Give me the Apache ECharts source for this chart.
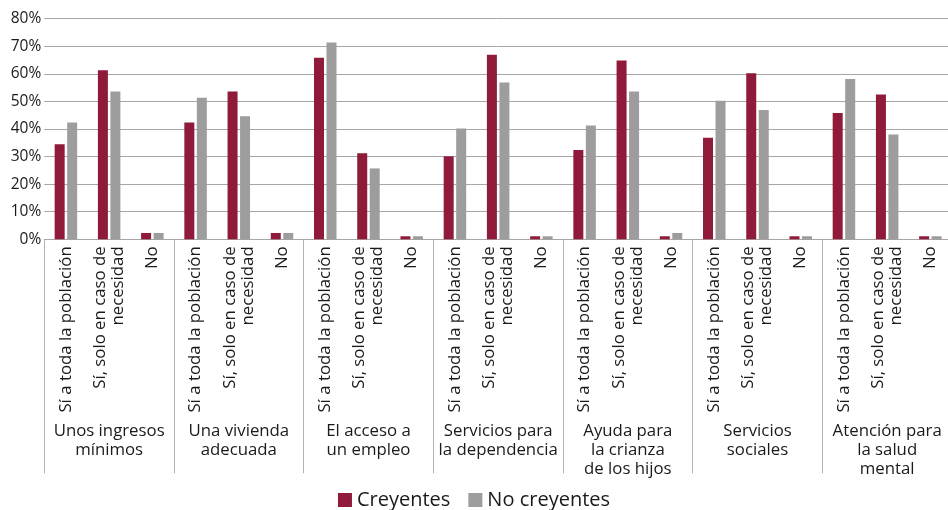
<!DOCTYPE html>
<html><head><meta charset="utf-8">
<script src="https://cdn.jsdelivr.net/npm/echarts@6/dist/echarts.min.js"></script>
<style>html,body{margin:0;padding:0;background:#fff}#c{width:948px;height:510px}</style>
</head><body><div id="c"></div>
<script>
const groups = ["Unos ingresos\nmínimos","Una vivienda\nadecuada","El acceso a\nun empleo","Servicios para\nla dependencia","Ayuda para\nla crianza\nde los hijos","Servicios\nsociales","Atención para\nla salud\nmental"];
const answers = ["Sí a toda la población","Sí, solo en caso de\nnecesidad","No"];
const yTicks = [0,10,20,30,40,50,60,70,80];
const creyentes = [34.5,61.3,2.3, 42.4,53.6,2.3, 65.8,31.2,1.1, 30.1,66.9,1.1, 32.4,64.8,1.1, 36.8,60.2,1.1, 45.8,52.5,1.1];
const noCreyentes = [42.4,53.6,2.3, 51.3,44.6,2.3, 71.4,25.7,1.1, 40.2,56.9,1.1, 41.3,53.6,2.3, 50.2,46.9,1.1, 58.1,38.0,1.1];

const categories = [];
groups.forEach(()=>answers.forEach(a=>categories.push(a)));
const font = 'Open Sans';
const chart = echarts.init(document.getElementById('c'), null, {renderer:'canvas'});
chart.setOption({
  animation:false,
  textStyle:{fontFamily:font},
  grid:{left:44.3, right:-4, top:18.7, bottom:270.7, outerBoundsMode:'none', containLabel:false},
  legend:{
    top:485, left:'center', itemWidth:14, itemHeight:14, itemGap:18,
    icon:'rect',
    textStyle:{fontFamily:font, fontSize:20, color:'#1a1a1a'},
    data:['Creyentes','No creyentes']
  },
  xAxis:[{
    type:'category', data:categories,
    axisLine:{show:true, lineStyle:{color:'#a6a6a6', width:1}},
    axisTick:{show:false},
    axisLabel:{interval:0, rotate:90, margin:7, fontFamily:font, fontSize:16.8, color:'#1a1a1a', lineHeight:18}
  },{
    type:'category', data:groups, position:'bottom',
    axisLine:{show:false},
    axisTick:{show:true, length:234, lineStyle:{color:'#b3b3b3', width:1}},
    axisLabel:{interval:0, margin:182, fontFamily:font, fontSize:16.8, color:'#1a1a1a', lineHeight:19}
  }],
  yAxis:{
    type:'value', min:0, max:80, interval:10,
    axisLine:{show:false}, axisTick:{show:false},
    splitLine:{lineStyle:{color:'#a6a6a6', width:1}},
    axisLabel:{formatter:'{value}%', margin:3, fontFamily:font, fontSize:15.5, color:'#1a1a1a'}
  },
  series:[
    {name:'Creyentes', type:'bar', data:creyentes, barWidth:10, barGap:'25%', itemStyle:{color:'#8f1a3a'}},
    {name:'No creyentes', type:'bar', data:noCreyentes, barWidth:10, barGap:'25%', itemStyle:{color:'#9d9d9d'}}
  ]
});
</script></body></html>
